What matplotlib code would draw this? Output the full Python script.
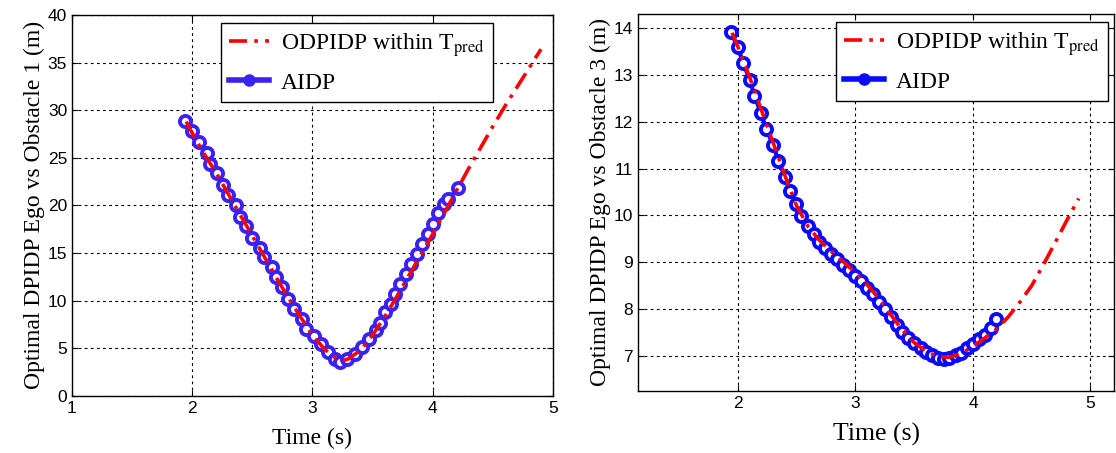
import matplotlib
matplotlib.use("Agg")
import matplotlib.pyplot as plt

# Obstacle 1 - AIDP samples
t_aidp_1 = [1.94, 2.00, 2.06, 2.12, 2.15, 2.21, 2.26, 2.30, 2.36, 2.40, 2.45, 2.50,
            2.56, 2.60, 2.66, 2.70, 2.75, 2.80, 2.85, 2.91, 2.95, 3.01, 3.07, 3.13,
            3.19, 3.23, 3.29, 3.35, 3.41, 3.47, 3.53, 3.56, 3.60, 3.65, 3.69, 3.73,
            3.78, 3.82, 3.87, 3.91, 3.96, 4.00, 4.04, 4.09, 4.13, 4.21]
d_aidp_1 = [28.9, 27.8, 26.7, 25.5, 24.4, 23.4, 22.1, 21.1, 20.0, 18.8, 17.8, 16.6,
            15.5, 14.6, 13.5, 12.5, 11.4, 10.2, 9.1, 8.1, 7.0, 6.3, 5.4, 4.6,
            3.9, 3.6, 3.9, 4.4, 5.1, 6.0, 6.9, 7.7, 8.8, 9.7, 10.7, 11.8,
            12.8, 13.9, 14.9, 16.0, 17.0, 18.1, 19.2, 20.2, 20.7, 21.8]

# Obstacle 1 - ODPIDP within T_pred
t_odp_1 = [1.95, 2.0, 2.1, 2.2, 2.3, 2.4, 2.5, 2.6, 2.7, 2.8, 2.9, 3.0, 3.1, 3.2,
           3.25, 3.3, 3.4, 3.5, 3.6, 3.7, 3.8, 3.9, 4.0, 4.1, 4.2, 4.3, 4.4, 4.5,
           4.6, 4.7, 4.8, 4.9]
d_odp_1 = [28.8, 27.6, 25.4, 23.4, 21.2, 19.0, 16.8, 14.6, 12.4, 10.3, 8.3, 6.4, 4.9, 3.9,
           3.7, 3.9, 4.8, 6.4, 8.3, 10.4, 12.6, 14.8, 17.0, 19.3, 21.6, 23.9, 26.1, 28.3,
           30.4, 32.4, 34.4, 36.4]

# Obstacle 3 - AIDP samples
t_aidp_3 = [1.94, 2.00, 2.045, 2.10, 2.14, 2.195, 2.24, 2.30, 2.345, 2.40, 2.44, 2.495,
            2.54, 2.595, 2.645, 2.69, 2.745, 2.795, 2.84, 2.894, 2.945, 3.00, 3.05, 3.10,
            3.15, 3.20, 3.25, 3.30, 3.35, 3.40, 3.45, 3.50, 3.555, 3.60, 3.65, 3.70,
            3.755, 3.80, 3.855, 3.90, 3.95, 4.00, 4.05, 4.10, 4.155, 4.20]
d_aidp_3 = [13.91, 13.59, 13.25, 12.90, 12.56, 12.19, 11.85, 11.50, 11.16, 10.83, 10.53, 10.24,
            9.99, 9.78, 9.61, 9.44, 9.30, 9.18, 9.07, 8.95, 8.83, 8.71, 8.59, 8.45,
            8.31, 8.15, 7.99, 7.82, 7.65, 7.51, 7.39, 7.28, 7.16, 7.09, 7.01, 6.96,
            6.94, 6.96, 7.01, 7.07, 7.16, 7.25, 7.35, 7.45, 7.60, 7.78]

# Obstacle 3 - ODPIDP within T_pred
t_odp_3 = [1.95, 2.0, 2.1, 2.2, 2.3, 2.4, 2.5, 2.6, 2.7, 2.8, 2.9, 3.0, 3.1, 3.2, 3.3,
           3.4, 3.5, 3.6, 3.7, 3.8, 3.9, 4.0, 4.1, 4.2, 4.3, 4.4, 4.5, 4.6, 4.7, 4.8, 4.9]
d_odp_3 = [13.9, 13.6, 12.95, 12.25, 11.55, 10.85, 10.2, 9.75, 9.45, 9.22, 9.0, 8.78, 8.52,
           8.22, 7.88, 7.55, 7.28, 7.1, 6.98, 6.97, 7.05, 7.2, 7.38, 7.57, 7.83, 8.15, 8.5,
           8.95, 9.42, 9.9, 10.36]

SERIF = "Liberation Serif"
SANS = "Liberation Sans"
plt.rcParams["mathtext.fontset"] = "stix"

ODP_LABEL = r"ODPIDP within T$_{\mathrm{pred}}$"
RED_DASH = (0, (5, 2, 1, 2))


def draw_panel(ax, t_aidp, d_aidp, t_odp, d_odp, blue, ylabel, legend_anchor, xl_size):
    ax.plot(t_aidp, d_aidp, color=blue, lw=3, marker="o", ms=8, mfc="white",
            mec=blue, mew=2.8, zorder=3)
    ax.plot(t_odp, d_odp, color="#ff0000", lw=2.6, ls=RED_DASH, zorder=4)
    ax.grid(True, color="black", ls=(0, (2.5, 3)), lw=0.8)
    ax.tick_params(direction="in", top=True, right=True, labelsize=12.5, length=4)
    for sp in ax.spines.values():
        sp.set_linewidth(1.0)
    ax.set_xlabel("Time (s)", family=SERIF, fontsize=xl_size, labelpad=9)
    ax.set_ylabel(ylabel, family=SERIF, fontsize=17, labelpad=2)

    h_odp, = ax.plot([], [], color="#ff0000", lw=2.6, ls=RED_DASH)
    h_aidp, = ax.plot([], [], color=blue, lw=4, marker="o", ms=8, mfc=blue, mec=blue)
    leg = ax.legend([h_odp, h_aidp], [ODP_LABEL, "AIDP"], loc="upper right",
                    bbox_to_anchor=legend_anchor, prop={"family": SERIF, "size": 17},
                    fancybox=False, framealpha=1, edgecolor="black", borderaxespad=0,
                    handlelength=1.7, borderpad=0.35, labelspacing=0.55, handletextpad=0.5)
    leg.get_frame().set_linewidth(1.0)


fig = plt.figure(figsize=(11.16, 4.53), dpi=100)
ax1 = fig.add_axes([0.0645, 0.126, 0.431, 0.841])
ax2 = fig.add_axes([0.5717, 0.137, 0.4265, 0.832])

draw_panel(ax1, t_aidp_1, d_aidp_1, t_odp_1, d_odp_1, "#3a22f5",
           "Optimal DPIDP Ego vs Obstacle 1 (m)", (0.875, 0.979), 17)
ax1.set_xlim(1, 5)
ax1.set_ylim(0, 40)
ax1.set_xticks([1, 2, 3, 4, 5])
ax1.set_yticks(range(0, 41, 5))

draw_panel(ax2, t_aidp_3, d_aidp_3, t_odp_3, d_odp_3, "#0a0aff",
           "Optimal DPIDP Ego vs Obstacle 3 (m)", (0.987, 0.979), 18.5)
ax2.set_xlim(1.15, 5.2)
ax2.set_ylim(6.25, 14.3)
ax2.set_xticks([2, 3, 4, 5])
ax2.set_yticks(range(7, 15))

for ax in (ax1, ax2):
    for lab in ax.get_xticklabels() + ax.get_yticklabels():
        lab.set_fontfamily(SANS)

fig.savefig("out.png", dpi=100)
